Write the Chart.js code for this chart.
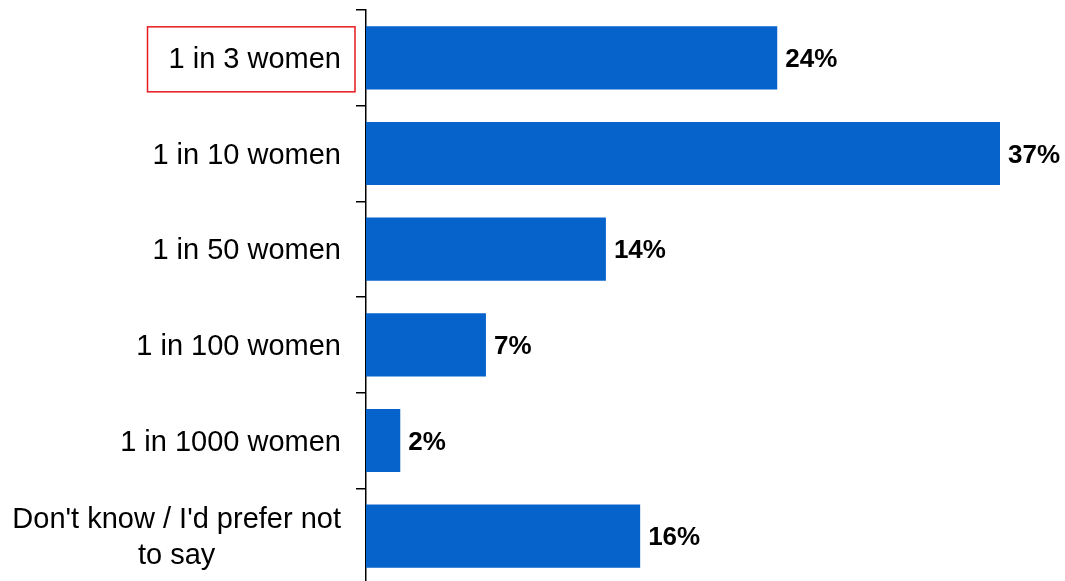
<!DOCTYPE html>
<html>
<head>
<meta charset="utf-8">
<script src="https://cdn.jsdelivr.net/npm/chart.js@4/dist/chart.umd.min.js"></script>
<style>
  html, body { margin: 0; padding: 0; background: #fff; overflow: hidden; }
  #wrap { position: relative; width: 1065px; height: 590px; }
</style>
</head>
<body>
<div id="wrap"><canvas id="chart"></canvas></div>
<script>
const categories = [
    ['1 in 3 women'],
    ['1 in 10 women'],
    ['1 in 50 women'],
    ['1 in 100 women'],
    ['1 in 1000 women'],
    ["Don't know / I'd prefer not", 'to say']
];
const values = [24, 37, 14, 7, 2, 16];
const highlighted = 0; // index of the boxed category

const BAR_COLOR = '#0563cb';
const LABEL_FONT = '29px "Liberation Sans", Arial, sans-serif';
const VALUE_FONT = 'bold 26px "Liberation Sans", Arial, sans-serif';

// Category labels are drawn here so the second line can be centred under the first
const categoryLabels = {
    id: 'categoryLabels',
    afterDraw(chart) {
        const { ctx, scales: { y } } = chart;
        const rightEdge = y.right - 25;
        const lineHeight = 36;
        ctx.save();
        ctx.font = LABEL_FONT;
        ctx.fillStyle = '#000';
        ctx.textBaseline = 'middle';
        ctx.textAlign = 'center';
        categories.forEach((lines, i) => {
            const yc = y.getPixelForValue(i);
            const w = Math.max(...lines.map(l => ctx.measureText(l).width));
            const cx = rightEdge - w / 2;
            const top = yc + 2 - (lines.length - 1) * lineHeight / 2;
            lines.forEach((l, j) => ctx.fillText(l, cx, top + j * lineHeight));
            if (i === highlighted) {
                ctx.strokeStyle = '#e8191f';
                ctx.lineWidth = 1.5;
                ctx.strokeRect(rightEdge - w - 21, yc - 31, w + 35, 65);
            }
        });
        ctx.restore();
    }
};

// Bold value labels to the right of each bar
const valueLabels = {
    id: 'valueLabels',
    afterDatasetsDraw(chart) {
        const { ctx } = chart;
        const meta = chart.getDatasetMeta(0);
        ctx.save();
        ctx.font = VALUE_FONT;
        ctx.fillStyle = '#000';
        ctx.textBaseline = 'middle';
        ctx.textAlign = 'left';
        meta.data.forEach((bar, i) => {
            ctx.fillText(values[i] + '%', bar.x + 8, bar.y + 2);
        });
        ctx.restore();
    }
};

new Chart(document.getElementById('chart'), {
    type: 'bar',
    data: {
        labels: categories.map(c => c.join(' ')),
        datasets: [{
            data: values,
            backgroundColor: BAR_COLOR,
            borderWidth: 0,
            categoryPercentage: 1,
            barPercentage: 0.66
        }]
    },
    options: {
        indexAxis: 'y',
        responsive: true,
        maintainAspectRatio: false,
        animation: false,
        layout: { padding: { top: 10, right: 13.6, bottom: 6, left: 0 } },
        scales: {
            x: { display: false, min: 0, max: 40 },
            y: {
                afterFit(scale) { scale.width = 366; },
                border: { display: true, color: '#000', width: 1.5 },
                grid: { display: true, drawOnChartArea: false, drawTicks: true, tickLength: 10, color: '#000', lineWidth: 1.5 },
                ticks: { display: false }
            }
        },
        plugins: { legend: { display: false }, tooltip: { enabled: false } }
    },
    plugins: [categoryLabels, valueLabels]
});
</script>
</body>
</html>
